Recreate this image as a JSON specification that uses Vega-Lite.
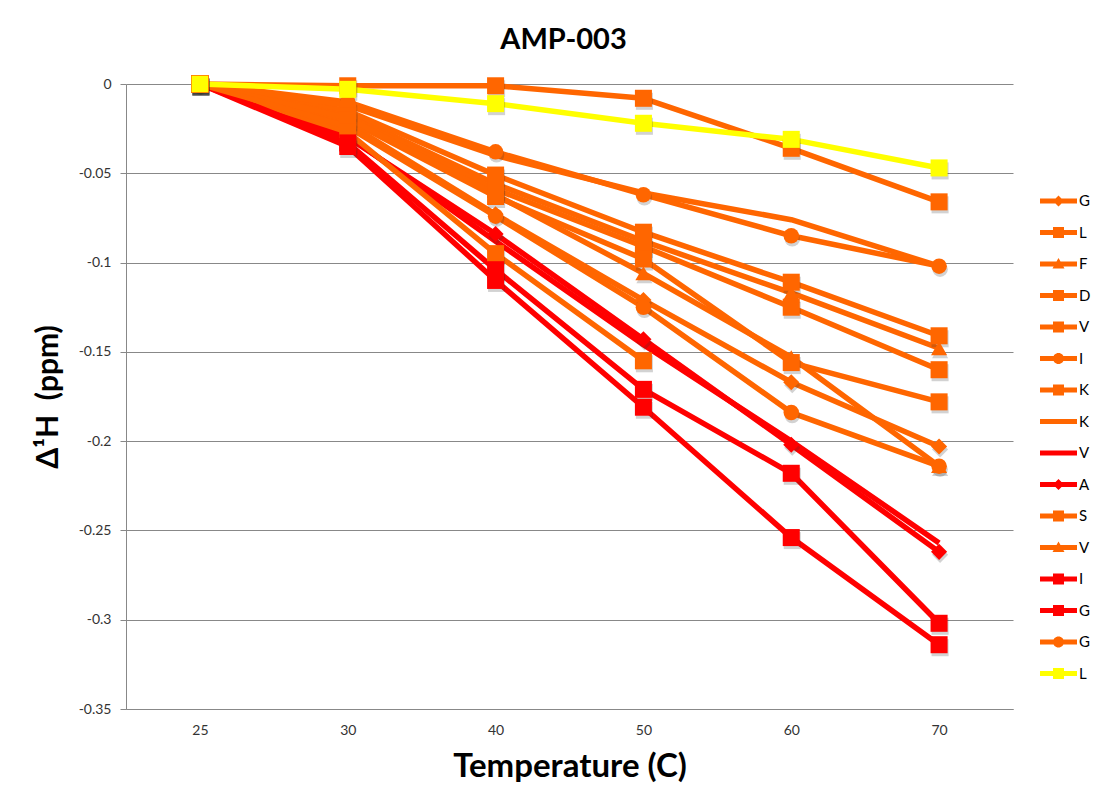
{
  "$schema": "https://vega.github.io/schema/vega-lite/v6.json",
  "autosize": {"type": "none"},
  "width": 887,
  "height": 625,
  "padding": {"left": 126, "top": 84, "right": 81, "bottom": 94},
  "background": "white",
  "title": {"text": "AMP-003", "fontSize": 29, "font": "Lato", "fontWeight": "bold", "color": "#000000", "offset": 20, "dx": -6},
  "config": {
    "view": {"stroke": null},
    "font": "Lato",
    "axis": {"labelFont": "Lato", "titleFont": "Lato", "labelColor": "#333333", "titleColor": "#000000", "gridColor": "#888888", "domainColor": "#888888", "tickColor": "#888888"}
  },
  "data": {
    "values": [
      {"s": "G_01", "t": 25, "v": 0}, {"s": "G_01", "t": 30, "v": -0.022}, {"s": "G_01", "t": 40, "v": -0.073}, {"s": "G_01", "t": 50, "v": -0.121}, {"s": "G_01", "t": 60, "v": -0.167}, {"s": "G_01", "t": 70, "v": -0.203},
      {"s": "L_02", "t": 25, "v": 0}, {"s": "L_02", "t": 30, "v": -0.001}, {"s": "L_02", "t": 40, "v": -0.001}, {"s": "L_02", "t": 50, "v": -0.008}, {"s": "L_02", "t": 60, "v": -0.036}, {"s": "L_02", "t": 70, "v": -0.066},
      {"s": "F_03", "t": 25, "v": 0}, {"s": "F_03", "t": 30, "v": -0.017}, {"s": "F_03", "t": 40, "v": -0.056}, {"s": "F_03", "t": 50, "v": -0.088}, {"s": "F_03", "t": 60, "v": -0.117}, {"s": "F_03", "t": 70, "v": -0.148},
      {"s": "D_04", "t": 25, "v": 0}, {"s": "D_04", "t": 30, "v": -0.015}, {"s": "D_04", "t": 40, "v": -0.051}, {"s": "D_04", "t": 50, "v": -0.083}, {"s": "D_04", "t": 60, "v": -0.111}, {"s": "D_04", "t": 70, "v": -0.141},
      {"s": "V_05", "t": 25, "v": 0}, {"s": "V_05", "t": 30, "v": -0.018}, {"s": "V_05", "t": 40, "v": -0.059}, {"s": "V_05", "t": 50, "v": -0.091}, {"s": "V_05", "t": 60, "v": -0.125}, {"s": "V_05", "t": 70, "v": -0.160},
      {"s": "I_06", "t": 25, "v": 0}, {"s": "I_06", "t": 30, "v": -0.010}, {"s": "I_06", "t": 40, "v": -0.038}, {"s": "I_06", "t": 50, "v": -0.062}, {"s": "I_06", "t": 60, "v": -0.085}, {"s": "I_06", "t": 70, "v": -0.102},
      {"s": "K_07", "t": 25, "v": 0}, {"s": "K_07", "t": 30, "v": -0.020}, {"s": "K_07", "t": 40, "v": -0.063}, {"s": "K_07", "t": 50, "v": -0.098}, {"s": "K_07", "t": 60, "v": -0.156}, {"s": "K_07", "t": 70, "v": -0.178},
      {"s": "K_08", "t": 25, "v": 0}, {"s": "K_08", "t": 30, "v": -0.012}, {"s": "K_08", "t": 40, "v": -0.040}, {"s": "K_08", "t": 50, "v": -0.061}, {"s": "K_08", "t": 60, "v": -0.076}, {"s": "K_08", "t": 70, "v": -0.102},
      {"s": "V_09", "t": 25, "v": 0}, {"s": "V_09", "t": 30, "v": -0.029}, {"s": "V_09", "t": 40, "v": -0.088}, {"s": "V_09", "t": 50, "v": -0.146}, {"s": "V_09", "t": 60, "v": -0.200}, {"s": "V_09", "t": 70, "v": -0.257},
      {"s": "A_10", "t": 25, "v": 0}, {"s": "A_10", "t": 30, "v": -0.030}, {"s": "A_10", "t": 40, "v": -0.084}, {"s": "A_10", "t": 50, "v": -0.143}, {"s": "A_10", "t": 60, "v": -0.202}, {"s": "A_10", "t": 70, "v": -0.262},
      {"s": "S_11", "t": 25, "v": 0}, {"s": "S_11", "t": 30, "v": -0.027}, {"s": "S_11", "t": 40, "v": -0.095}, {"s": "S_11", "t": 50, "v": -0.155},
      {"s": "V_12", "t": 25, "v": 0}, {"s": "V_12", "t": 30, "v": -0.019}, {"s": "V_12", "t": 40, "v": -0.062}, {"s": "V_12", "t": 50, "v": -0.106}, {"s": "V_12", "t": 60, "v": -0.153}, {"s": "V_12", "t": 70, "v": -0.214},
      {"s": "I_13", "t": 25, "v": 0}, {"s": "I_13", "t": 30, "v": -0.033}, {"s": "I_13", "t": 40, "v": -0.104}, {"s": "I_13", "t": 50, "v": -0.171}, {"s": "I_13", "t": 60, "v": -0.218}, {"s": "I_13", "t": 70, "v": -0.302},
      {"s": "G_14", "t": 25, "v": 0}, {"s": "G_14", "t": 30, "v": -0.035}, {"s": "G_14", "t": 40, "v": -0.110}, {"s": "G_14", "t": 50, "v": -0.181}, {"s": "G_14", "t": 60, "v": -0.254}, {"s": "G_14", "t": 70, "v": -0.314},
      {"s": "G_15", "t": 25, "v": 0}, {"s": "G_15", "t": 30, "v": -0.024}, {"s": "G_15", "t": 40, "v": -0.074}, {"s": "G_15", "t": 50, "v": -0.125}, {"s": "G_15", "t": 60, "v": -0.184}, {"s": "G_15", "t": 70, "v": -0.214},
      {"s": "L_16", "t": 25, "v": 0}, {"s": "L_16", "t": 30, "v": -0.003}, {"s": "L_16", "t": 40, "v": -0.011}, {"s": "L_16", "t": 50, "v": -0.022}, {"s": "L_16", "t": 60, "v": -0.031}, {"s": "L_16", "t": 70, "v": -0.047}
    ]
  },
  "encoding": {
    "x": {"field": "t", "type": "ordinal", "scale": {"type": "point", "padding": 0.5},
      "axis": {"title": "Temperature (C)", "labelAngle": 0, "labelFontSize": 14, "labelPadding": 14, "ticks": false, "titleFontSize": 33, "titleFontWeight": "bold", "titlePadding": 13, "grid": false}},
    "y": {"field": "v", "type": "quantitative", "scale": {"domain": [-0.35, 0], "nice": false, "zero": false},
      "axis": {"title": "Δ¹H\u00a0\u00a0(ppm)", "values": [0, -0.05, -0.1, -0.15, -0.2, -0.25, -0.3, -0.35], "labelExpr": "datum.value == 0 ? '0' : '-' + format(-datum.value, '')", "labelFontSize": 14, "tickSize": 6, "labelPadding": 9, "titleFontSize": 30, "titleFontWeight": "bold", "titlePadding": 15, "grid": true}},
    "color": {"field": "s", "type": "nominal",
      "scale": {"domain": ["G_01", "L_02", "F_03", "D_04", "V_05", "I_06", "K_07", "K_08", "V_09", "A_10", "S_11", "V_12", "I_13", "G_14", "G_15", "L_16"],
        "range": ["#FF6600", "#FF6600", "#FF6600", "#FF6600", "#FF6600", "#FF6600", "#FF6600", "#FF6600", "#FF0000", "#FF0000", "#FF6600", "#FF6600", "#FF0000", "#FF0000", "#FF6600", "#FFFF00"]}}
  },
  "layer": [
    {"transform": [{"filter": "false"}],
     "mark": {"type": "point", "filled": true, "opacity": 1},
     "encoding": {
       "color": {"field": "s", "type": "nominal",
         "legend": {"title": null, "orient": "none", "legendX": 932, "legendY": 107, "labelExpr": "substring(datum.label, 0, 1)", "labelFontSize": 15, "labelFont": "Lato", "labelColor": "#000000", "labelOffset": 1, "symbolSize": 400, "symbolStrokeWidth": 0, "symbolType": "square", "rowPadding": 13.5, "symbolOpacity": 1}},
       "shape": {"field": "s", "type": "nominal",
         "scale": {"domain": ["G_01", "L_02", "F_03", "D_04", "V_05", "I_06", "K_07", "K_08", "V_09", "A_10", "S_11", "V_12", "I_13", "G_14", "G_15", "L_16"],
           "range": [
             "M-2.8,-0.25H0.9V0.25H-2.8Z M-0.95,-0.55L-0.4,0L-0.95,0.55L-1.5,0Z",
             "M-2.8,-0.25H0.9V0.25H-2.8Z M-1.5,-0.55H-0.4V0.55H-1.5Z",
             "M-2.8,-0.25H0.9V0.25H-2.8Z M-0.95,-0.6L-0.35,0.45H-1.55Z",
             "M-2.8,-0.25H0.9V0.25H-2.8Z M-1.5,-0.55H-0.4V0.55H-1.5Z",
             "M-2.8,-0.25H0.9V0.25H-2.8Z M-1.5,-0.55H-0.4V0.55H-1.5Z",
             "M-2.8,-0.25H0.9V0.25H-2.8Z M-1.5,0A0.55,0.55 0 1 1 -0.4,0A0.55,0.55 0 1 1 -1.5,0Z",
             "M-2.8,-0.25H0.9V0.25H-2.8Z M-1.5,-0.55H-0.4V0.55H-1.5Z",
             "M-2.8,-0.25H0.9V0.25H-2.8Z",
             "M-2.8,-0.25H0.9V0.25H-2.8Z",
             "M-2.8,-0.25H0.9V0.25H-2.8Z M-0.95,-0.55L-0.4,0L-0.95,0.55L-1.5,0Z",
             "M-2.8,-0.25H0.9V0.25H-2.8Z M-1.5,-0.55H-0.4V0.55H-1.5Z",
             "M-2.8,-0.25H0.9V0.25H-2.8Z M-0.95,-0.6L-0.35,0.45H-1.55Z",
             "M-2.8,-0.25H0.9V0.25H-2.8Z M-1.5,-0.55H-0.4V0.55H-1.5Z",
             "M-2.8,-0.25H0.9V0.25H-2.8Z M-1.5,-0.55H-0.4V0.55H-1.5Z",
             "M-2.8,-0.25H0.9V0.25H-2.8Z M-1.5,0A0.55,0.55 0 1 1 -0.4,0A0.55,0.55 0 1 1 -1.5,0Z",
             "M-2.8,-0.25H0.9V0.25H-2.8Z M-1.5,-0.55H-0.4V0.55H-1.5Z"
           ]},
         "legend": {"title": null, "orient": "none", "legendX": 932, "legendY": 107, "labelExpr": "substring(datum.label, 0, 1)", "labelFontSize": 15, "labelFont": "Lato", "labelColor": "#000000", "labelOffset": 1, "symbolSize": 400, "symbolStrokeWidth": 0, "rowPadding": 13.5, "symbolOpacity": 1,
           "encode": {"symbols": {"update": {"fill": {"scale": "color", "field": "value"}, "strokeWidth": {"value": 0}, "opacity": {"value": 1}}}}}}
     }},
    {"mark": {"type": "line", "strokeWidth": 5.5, "strokeJoin": "round", "strokeCap": "butt"}, "encoding": {"detail": {"field": "s"}}},
    {"transform": [{"filter": {"field": "s", "oneOf": ["G_01", "A_10"]}}],
     "mark": {"type": "point", "filled": true, "shape": "diamond", "size": 260, "opacity": 0.22, "xOffset": 1, "yOffset": 3},
     "encoding": {"color": {"value": "#333333"}}},
    {"transform": [{"filter": {"field": "s", "oneOf": ["F_03", "V_12"]}}],
     "mark": {"type": "point", "filled": true, "shape": "triangle-up", "size": 260, "opacity": 0.22, "xOffset": 1, "yOffset": 3},
     "encoding": {"color": {"value": "#333333"}}},
    {"transform": [{"filter": {"field": "s", "oneOf": ["I_06", "G_15"]}}],
     "mark": {"type": "point", "filled": true, "shape": "circle", "size": 240, "opacity": 0.22, "xOffset": 1, "yOffset": 3},
     "encoding": {"color": {"value": "#333333"}}},
    {"transform": [{"filter": {"field": "s", "oneOf": ["L_02", "D_04", "V_05", "K_07", "S_11", "I_13", "G_14", "L_16"]}}],
     "mark": {"type": "point", "filled": true, "shape": "square", "size": 290, "opacity": 0.22, "xOffset": 1, "yOffset": 3},
     "encoding": {"color": {"value": "#333333"}}},
    {"transform": [{"filter": {"field": "s", "oneOf": ["G_01", "A_10"]}}],
     "mark": {"type": "point", "filled": true, "shape": "diamond", "size": 260, "opacity": 1}},
    {"transform": [{"filter": {"field": "s", "oneOf": ["F_03", "V_12"]}}],
     "mark": {"type": "point", "filled": true, "shape": "triangle-up", "size": 260, "opacity": 1}},
    {"transform": [{"filter": {"field": "s", "oneOf": ["I_06", "G_15"]}}],
     "mark": {"type": "point", "filled": true, "shape": "circle", "size": 240, "opacity": 1}},
    {"transform": [{"filter": {"field": "s", "oneOf": ["L_02", "D_04", "V_05", "K_07", "S_11", "I_13", "G_14", "L_16"]}}],
     "mark": {"type": "point", "filled": true, "shape": "square", "size": 290, "opacity": 1}}
  ]
}
